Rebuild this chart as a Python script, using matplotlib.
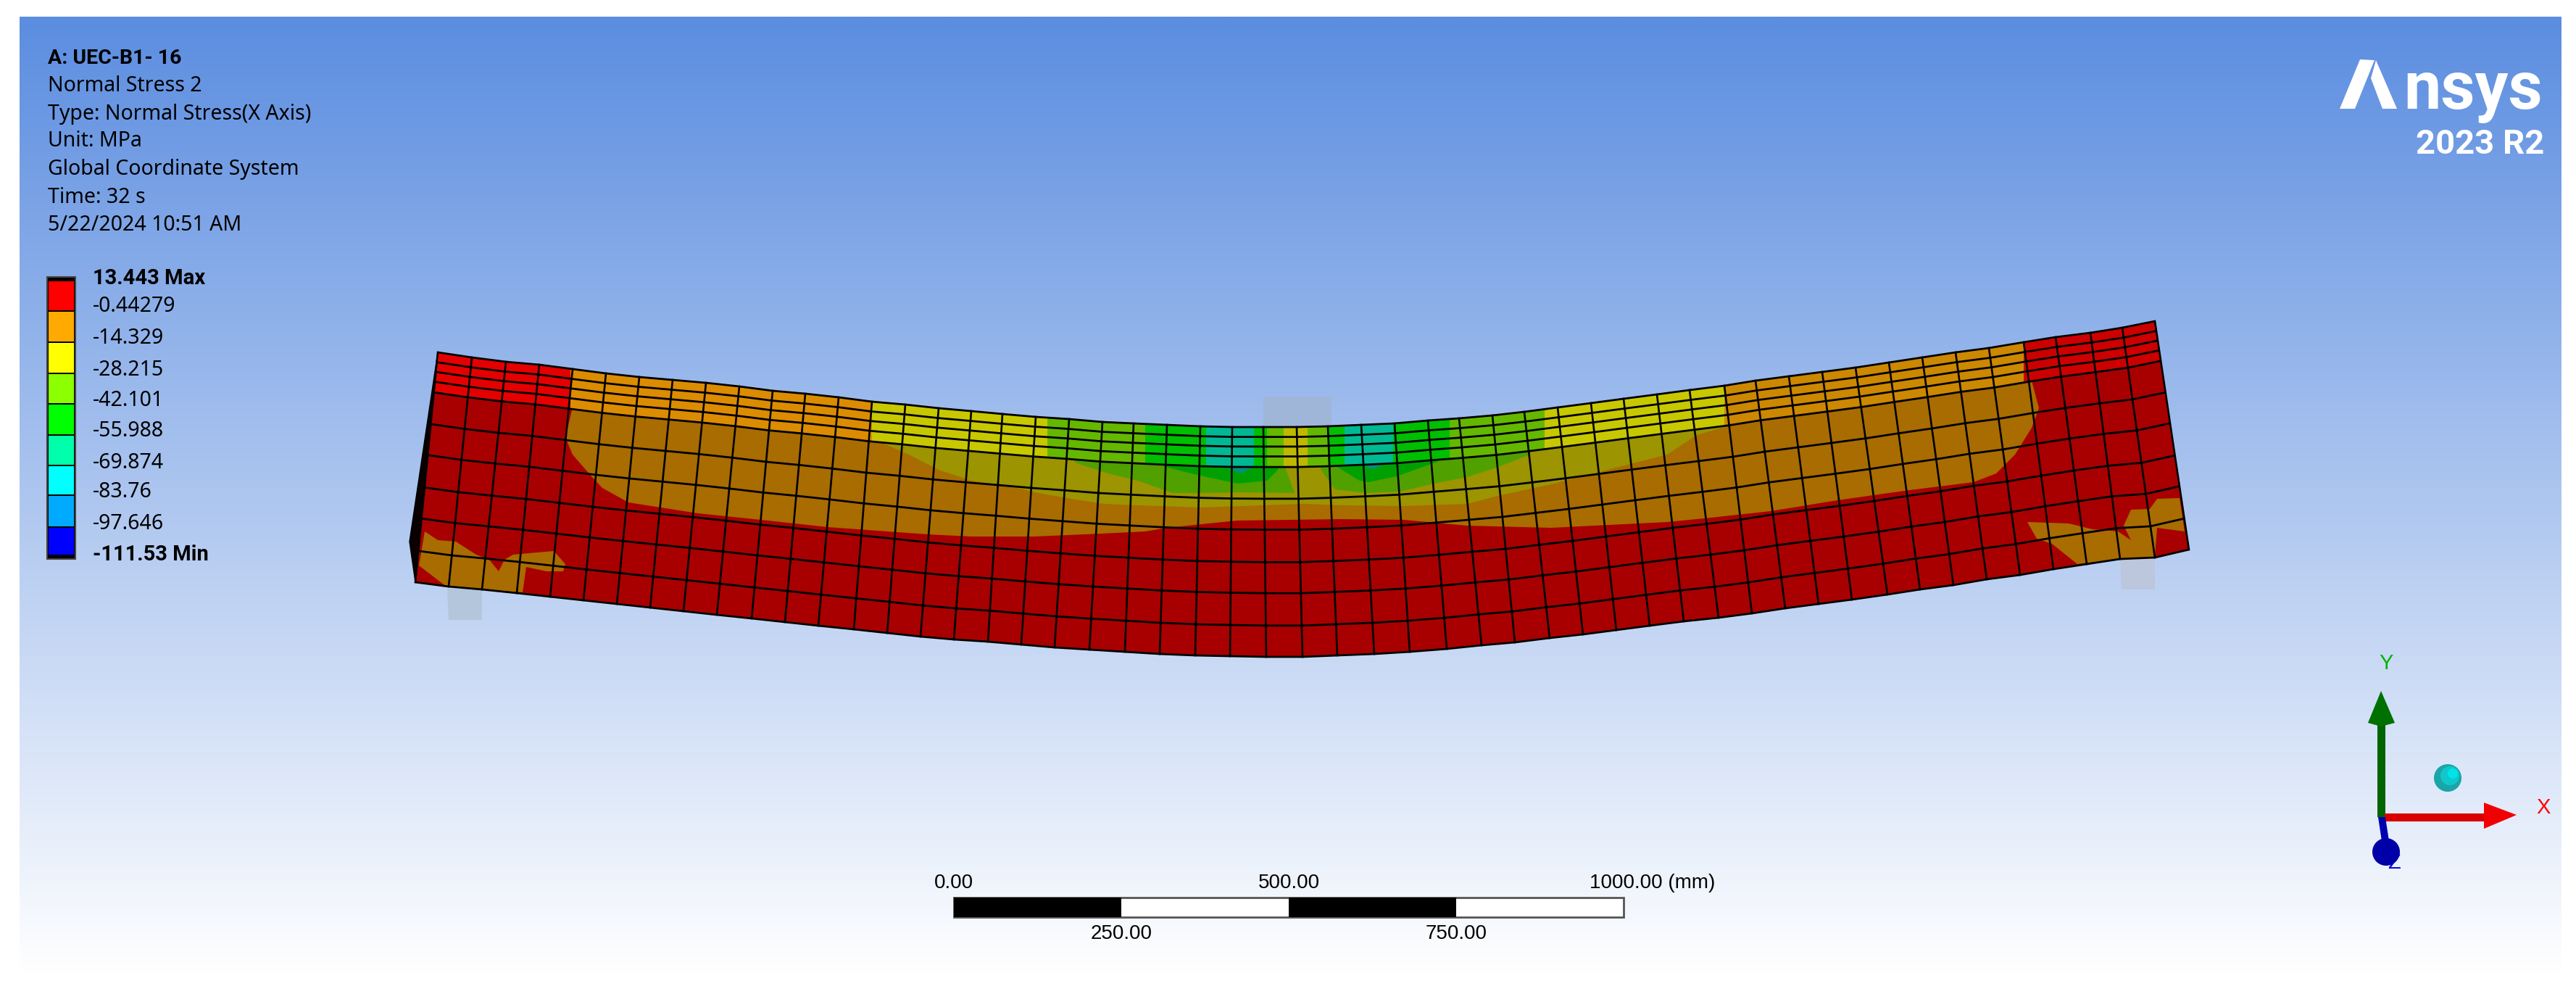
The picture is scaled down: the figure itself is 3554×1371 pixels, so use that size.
import numpy as np
import matplotlib
matplotlib.use('Agg')
import matplotlib.pyplot as plt
from matplotlib.patches import Polygon, Circle, Rectangle

# header / legend text
header = ['Normal Stress 2', 'Type: Normal Stress(X Axis)', 'Unit: MPa',
          'Global Coordinate System', 'Time: 32 s', '5/22/2024 10:51 AM']
legend_labels = ['13.443 Max', '-0.44279', '-14.329', '-28.215', '-42.101', '-55.988',
                 '-69.874', '-83.76', '-97.646', '-111.53 Min']
legend_colors = ['#ff0000', '#ffaa00', '#ffff00', '#8cff00', '#00ff00', '#00ffaa',
                 '#00ffff', '#00aaff', '#0000ff']
legend_edges = [387, 429, 472, 515, 557, 600, 642, 683, 727, 766]
legend_label_y = [384, 423, 467, 510, 552, 595, 638, 679, 722, 765]

# deformed beam, one value per mesh column
top_x = [604, 651, 698, 744, 790, 836, 882, 928, 974, 1020, 1066, 1111, 1157, 1203, 1249, 1295, 1340, 1383,
         1429, 1475, 1521, 1564, 1610, 1656, 1700, 1743, 1789, 1832, 1878, 1924, 1970, 2013, 2059, 2103, 2149,
         2195, 2240, 2286, 2331, 2379, 2422, 2468, 2514, 2560, 2606, 2652, 2698, 2744, 2792, 2836, 2884, 2928, 2973]
top_y = [486, 493, 499, 503, 509, 515, 520, 524, 528, 533, 539, 543, 548, 554, 558, 563, 567, 571,
         575, 578, 582, 584, 586, 588, 589, 589, 589, 588, 586, 584, 580, 577, 573, 568, 562,
         556, 550, 544, 538, 532, 525, 519, 513, 507, 500, 493, 486, 480, 472, 465, 459, 452, 443]
bot_x = [573, 619, 665, 713, 759, 805, 851, 897, 943, 989, 1037, 1083, 1129, 1178, 1224, 1270, 1316, 1363,
         1409, 1455, 1503, 1552, 1600, 1649, 1697, 1747, 1797, 1845, 1896, 1945, 1996, 2044, 2090, 2138, 2184,
         2230, 2276, 2323, 2371, 2417, 2463, 2509, 2555, 2604, 2649, 2695, 2741, 2787, 2833, 2879, 2925, 2973, 3020]
bot_y = [803, 809, 813, 818, 823, 828, 833, 838, 843, 848, 853, 858, 863, 868, 873, 878, 882, 885,
         889, 893, 896, 899, 902, 904, 905, 906, 906, 904, 902, 899, 895, 890, 886, 880, 875,
         869, 863, 857, 852, 846, 839, 833, 827, 820, 813, 807, 799, 793, 785, 778, 771, 769, 758]
row_v = [0, .043, .085, .128, .174, .312, .447, .588, .723, .864, 1]

# top face colour bands
band_breaks = [560, 787, 1203, 1445, 1580, 1664, 1730, 1748, 1771, 1804, 1832, 1855, 1922, 2000, 2131, 2379, 2792, 3000]
band_colors = ['#e40000', '#dc8c00', '#c8c800', '#64b800', '#00be00', '#00b894', '#00be00', '#64b800', '#c0b800',
               '#64b800', '#00be00', '#00b894', '#00be00', '#64b800', '#c8c800', '#cc8800', '#cc0000']

# contour regions on the side face
orange_zone = [(790, 500), (790, 562), (780, 603), (790, 627), (816, 657), (831, 673), (867, 693), (963, 708),
               (1050, 717), (1142, 727), (1280, 737), (1340, 740), (1427, 740), (1519, 736), (1580, 733), (1610, 728),
               (1667, 722), (1707, 718), (1850, 716), (1937, 717), (2024, 725), (2140, 728), (2300, 720), (2351, 715),
               (2443, 705), (2535, 690), (2627, 677), (2723, 665), (2754, 653), (2780, 627), (2803, 590), (2813, 563),
               (2803, 525), (2803, 470)]
olive_zone = [(1203, 540), (1203, 605), (1254, 627), (1295, 648), (1340, 663), (1391, 670), (1432, 680), (1478, 688),
              (1524, 695), (1570, 697), (1656, 700), (1799, 695), (1850, 697), (1937, 698), (2024, 695), (2070, 683),
              (2140, 668), (2300, 627), (2341, 600), (2382, 588), (2382, 540)]
lime_left = [(1470, 600), (1483, 638), (1529, 653), (1570, 663), (1618, 680), (1661, 680), (1707, 679), (1786, 680),
             (1774, 647), (1770, 600)]
lime_right = [(1822, 600), (1822, 647), (1842, 675), (1886, 680), (1932, 678), (1978, 667), (2024, 658), (2070, 643),
              (2110, 627), (2125, 600)]
green_left = [(1600, 600), (1605, 643), (1631, 650), (1661, 657), (1707, 667), (1748, 663), (1763, 648), (1768, 600)]
green_right = [(1835, 600), (1843, 643), (1876, 663), (1888, 665), (1927, 657), (1983, 637), (1995, 600)]
teal_left = [(1685, 600), (1687, 643), (1712, 653), (1733, 643), (1735, 600)]
teal_right = [(1878, 600), (1881, 643), (1894, 647), (1906, 642), (1910, 600)]
patch_left = [(586, 733), (604, 745), (629, 747), (657, 765), (675, 772), (688, 788), (696, 772), (708, 765), (764, 760),
              (780, 778), (777, 788), (754, 788), (726, 782), (721, 817), (617, 810), (578, 780)]
patch_right = [(2797, 720), (2854, 722), (2887, 730), (2922, 733), (2940, 745), (2930, 725), (2940, 703), (2966, 702),
               (2976, 688), (3007, 687), (3014, 733), (2976, 728), (2973, 768), (2925, 771), (2866, 778), (2831, 750),
               (2810, 743)]

scale_ticks = [0, 250, 500, 750, 1000]

fig = plt.figure(figsize=(35.54, 13.71), dpi=100)
ax = fig.add_axes([0, 0, 1, 1])

# background
bg_top = np.array([91, 141, 224]) / 255
bg_bot = np.array([255, 255, 255]) / 255
t = np.linspace(0, 1, 400)[:, None, None]
grad = bg_top[None, None, :] * (1 - t) + bg_bot[None, None, :] * t
ax.imshow(grad, extent=(27, 3534, 1344, 23), aspect='auto', interpolation='bilinear', zorder=0)

top_x = np.array(top_x)
top_y = np.array(top_y)
bot_x = np.array(bot_x)
bot_y = np.array(bot_y)

# supports
ax.add_patch(Polygon([(617, 812), (665, 812), (665, 855), (619, 855)], fc='#b4c6dc', ec='none', zorder=1))
ax.add_patch(Polygon([(2925, 771), (2973, 771), (2973, 813), (2927, 813)], fc='#bcc6dc', ec='none', zorder=1))
ax.add_patch(Rectangle((1743, 547), 94, 45, fc='#9fb6d8', ec='none', zorder=1))

# beam
ax.add_patch(Polygon([(604, 486), (573, 803), (565, 747)], fc='#0a0000', ec='black', lw=1, zorder=2))
outline = list(zip(top_x, top_y)) + list(zip(bot_x[::-1], bot_y[::-1]))
beam = Polygon(outline, fc='#a80000', ec='none', zorder=2)
ax.add_patch(beam)


def zone(points, color, z):
    p = Polygon(points, fc=color, ec='none', zorder=z)
    ax.add_patch(p)
    p.set_clip_path(beam)


zone(orange_zone, '#a86c00', 3)
zone(olive_zone, '#9c9400', 4)
zone(lime_left, '#50a000', 5)
zone(lime_right, '#50a000', 5)
zone(green_left, '#00a000', 6)
zone(green_right, '#00a000', 6)
zone(teal_left, '#009080', 7)
zone(teal_right, '#009080', 7)
zone(patch_left, '#a86c00', 3)
zone(patch_right, '#a86c00', 3)

# top face bands
v_band = row_v[4]
band_x = top_x + v_band * (bot_x - top_x)
band_y = top_y + v_band * (bot_y - top_y)
band = Polygon(list(zip(top_x, top_y)) + list(zip(band_x[::-1], band_y[::-1])), fc='none', ec='none', zorder=8)
ax.add_patch(band)
for i, c in enumerate(band_colors):
    r = Rectangle((band_breaks[i], 420), band_breaks[i + 1] - band_breaks[i], 260, fc=c, ec='none', zorder=8)
    ax.add_patch(r)
    r.set_clip_path(band)

# mesh lines
for v in row_v:
    ax.plot(top_x + v * (bot_x - top_x), top_y + v * (bot_y - top_y), color='black', lw=2.0, zorder=9,
            solid_capstyle='butt')
for i in range(len(top_x)):
    ax.plot([top_x[i], bot_x[i]], [top_y[i], bot_y[i]], color='black', lw=1.9, zorder=9)

# header
ax.text(66, 80, 'A: UEC-B1- 16', fontsize=20.5, fontweight='bold', family='Roboto', va='center', color='black',
        zorder=20)
for i, line in enumerate(header):
    ax.text(66, [118, 157, 195, 233, 272, 310][i], line, fontsize=20.5, family='Noto Sans', va='center', color='black',
            zorder=20)

# legend
ax.add_patch(Rectangle((65, 382), 39, 389, fc='black', ec='#444444', lw=1.5, zorder=10))
for i, c in enumerate(legend_colors):
    ax.add_patch(Rectangle((67, legend_edges[i] + 1), 35, legend_edges[i + 1] - legend_edges[i] - 2, fc=c, ec='none',
                           zorder=11))
for i, lab in enumerate(legend_labels):
    if i in (0, 9):
        ax.text(128, legend_label_y[i], lab, fontsize=21, fontweight='bold', family='Roboto', va='center',
                color='black', zorder=20)
    else:
        ax.text(128, legend_label_y[i], lab, fontsize=20.5, family='Noto Sans', va='center', color='black', zorder=20)

# logo
ax.add_patch(Polygon([(3228, 150), (3249, 150), (3276, 83), (3256, 82)], fc='white', ec='none', zorder=20))
ax.add_patch(Polygon([(3278, 83), (3307, 150), (3287, 150), (3271, 108)], fc='white', ec='none', zorder=20))
ax.text(3508, 150, 'nsys', fontsize=66, fontweight='bold', family='Roboto', ha='right', va='baseline',
        color='white', zorder=20)
ax.text(3510, 212, '2023 R2', fontsize=34, fontweight='bold', family='Roboto', ha='right',
        va='baseline', color='white', zorder=20)

# triad
ax.add_patch(Rectangle((3280, 1000), 11, 127, fc='#006400', ec='none', zorder=12))
ax.add_patch(Polygon([(3285, 953), (3267, 997), (3285, 1002), (3304, 997)], fc='#007000', ec='none', zorder=13))
ax.add_patch(Rectangle((3290, 1122), 137, 11, fc='#d80000', ec='none', zorder=12))
ax.add_patch(Polygon([(3427, 1107), (3472, 1124), (3427, 1143)], fc='#f00000', ec='none', zorder=13))
ax.add_patch(Polygon([(3281, 1127), (3291, 1127), (3296, 1160), (3286, 1160)], fc='#0000b0', ec='none', zorder=12))
ax.add_patch(Circle((3292, 1175), 19, fc='#0000a8', ec='none', zorder=13))
ax.add_patch(Circle((3377, 1073), 19, fc='#1aa5a8', ec='none', zorder=13))
ax.add_patch(Circle((3380, 1070), 13, fc='#10c8cc', ec='none', zorder=14))
ax.add_patch(Circle((3384, 1067), 7, fc='#00e4e8', ec='none', zorder=15))
ax.text(3292, 915, 'Y', fontsize=21, family='Liberation Sans', ha='center', va='center', color='#00b400', zorder=20)
ax.text(3509, 1114, 'X', fontsize=21, family='Liberation Sans', ha='center', va='center', color='#ff0000', zorder=20)
ax.text(3303, 1190, 'Z', fontsize=21, family='Liberation Sans', ha='center', va='center', color='#0000e0', zorder=11)

# scale bar
x0 = 1316
mm = (2240 - 1316) / 1000
ax.add_patch(Rectangle((x0, 1238), 1000 * mm, 27, fc='white', ec='#555555', lw=2, zorder=12))
for i in range(len(scale_ticks) - 1):
    if i % 2 == 0:
        ax.add_patch(Rectangle((x0 + scale_ticks[i] * mm, 1238), (scale_ticks[i + 1] - scale_ticks[i]) * mm, 27,
                               fc='black', ec='none', zorder=13))
for i, s in enumerate(scale_ticks):
    lab = '%.2f' % s
    if s == 1000:
        ax.text(2193, 1218, lab + ' (mm)', fontsize=20, family='Liberation Sans', ha='left', va='center', zorder=20)
    else:
        y = 1288 if i % 2 == 1 else 1218
        ax.text(x0 + s * mm, y, lab, fontsize=20, family='Liberation Sans', ha='center', va='center', zorder=20)

ax.set_xlim(0, 3554)
ax.set_ylim(1371, 0)
ax.axis('off')
fig.savefig('out.png', dpi=100, facecolor='white')
